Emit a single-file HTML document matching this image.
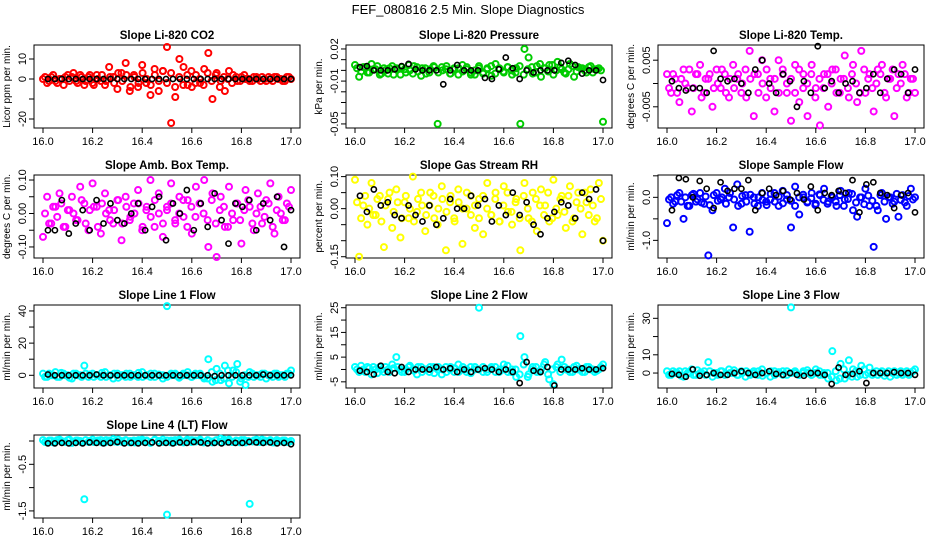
<!DOCTYPE html>
<html><head><meta charset="utf-8"><style>
html,body{margin:0;padding:0;background:#fff;}
svg{display:block;font-family:"Liberation Sans",sans-serif;}
</style></head><body>
<svg id="chart" width="936" height="540" viewBox="0 0 936 540">
<text x="468" y="14" text-anchor="middle" font-size="13">FEF_080816  2.5 Min. Slope Diagnostics</text>
</svg>
<script>
// ---- data ----
const xTicks = [16.0, 16.2, 16.4, 16.6, 16.8, 17.0];
const xTickLabels = ["16.0", "16.2", "16.4", "16.6", "16.8", "17.0"];
const xStart = 16.0, xEnd = 17.0;

const co2Vals = [0,-2,1,-1,0,-3,2,1,-1,2,-3,1,-2,2,-1,-3,6,1,-5,3,8,-6,2,-4,7,-2,-8,5,-6,4,16,-22,-9,10,6,-3,-4,2,-2,5,13,-10,3,-1,-6,4,2,-1,1,0,-1,1,0,1,-1,0,1,0,-1,1,0];
const co2Band = [1,-1,2,-2,0,1,-1,3,-2,1,-1,2,-3,0,2,-1,1,-2,3,-1,2,-4,1,-2,3,0,-3,2,-1,4,-2,3,-4,1,-3,2,4,-2,0,-3,3,-1,2,-4,1,0,-2,1,-1,2,0,-1,1,-1,0,1,-1,1,0,-1,1];
const co2Black = [0,0,0,0,0,0,0,0,0,0,0,0,0,0,0,0,0,0,0,0,0,0,0,0,0,0,0,0,0,0,0,0,0,0,0,0];
const presVals = [0.005,-0.006,0.003,-0.002,0.006,0.001,-0.004,0.002,-0.003,0.004,0.002,-0.004,0.001,0.005,-0.003,0.003,-0.005,0.002,-0.002,0.004,-0.05,0.003,0.001,-0.003,0.002,-0.004,0.005,0.001,-0.002,-0.004,0.004,-0.003,0.002,-0.005,0.006,0.001,-0.002,0.003,-0.004,0.002,-0.05,0.02,0.012,-0.003,0.004,-0.006,0.002,0.005,-0.004,0.008,0.001,-0.003,0.006,-0.006,0.003,0.002,-0.002,0.004,0.001,0.002,-0.048];
const presBand = [0.002,-0.001,0.003,-0.002,0.001,0.004,-0.003,0.0,0.002,-0.004,0.001,0.003,-0.002,0.0,0.004,-0.001,0.002,-0.003,0.001,0.003,-0.002,0.0,0.004,-0.003,0.001,0.002,-0.001,0.003,-0.004,0.0,0.002,-0.002,0.001,0.004,-0.003,0.002,-0.001,0.003,0.0,-0.002,0.004,-0.004,0.001,0.003,-0.002,0.006,0.002,-0.001,0.005,0.0,0.003,-0.002,0.001,0.004,-0.001,0.002,0.0,0.003,-0.002,0.001,0.0];
const presBlack = [0.003,0.004,0,0,0,0.001,0.004,0.006,0.001,0,0,0,-0.013,0,0.005,0,0,0,-0.007,-0.008,0.001,0.012,0.002,-0.008,0,-0.002,0,0,0,0.007,0.009,0.005,-0.003,0,0,-0.009];
const tempVals = [0.002,-0.002,0.001,-0.004,0.003,-0.001,-0.006,0.002,0.004,-0.002,0.001,-0.005,0.003,-0.001,0.002,-0.003,0.004,0.001,-0.002,0.003,0.007,-0.007,0.002,0.005,-0.003,0.001,-0.006,0.005,0.003,-0.002,-0.008,0.004,-0.004,0.002,-0.007,0.004,-0.001,-0.009,0.002,-0.005,0.003,-0.002,0.001,0.006,-0.003,0.004,-0.004,0.007,-0.002,0.002,-0.006,0.003,0.004,-0.003,0.001,-0.007,0.002,0.004,-0.003,0.001,-0.002];
const tempBand = [-0.001,0.002,-0.002,0.001,0.0,0.003,-0.001,0.002,-0.003,0.001,0.002,-0.001,0.0,0.003,-0.002,0.001,-0.001,0.002,0.0,-0.003,0.001,0.002,-0.002,0.0,0.003,-0.001,0.001,-0.002,0.002,0.0,0.001,-0.002,0.003,-0.001,0.0,0.002,-0.003,0.001,-0.001,0.002,0.0,0.003,-0.002,0.001,-0.001,0.002,0.0,-0.002,0.003,0.001,-0.001,0.0,0.002,-0.002,0.001,0.003,-0.001,0.0,0.002,-0.002,0.001];
const tempBlack = [0.0005,-0.001,-0.0015,-0.001,-0.001,-0.002,0.007,0.001,0.0005,0.001,0,-0.002,0.003,0.005,0,-0.002,0.002,0.0005,-0.005,0.0005,-0.002,0.008,-0.001,0.0005,-0.002,0,0.0005,-0.002,-0.001,0.002,-0.002,0.001,0.003,0.002,-0.002,0.003];
const ambVals = [-0.07,0.05,-0.03,0.02,0.06,-0.04,0.01,0.05,-0.02,0.08,0.03,-0.05,0.09,0.02,-0.06,0.06,0.01,-0.03,0.04,-0.08,0.05,-0.02,0.03,0.07,-0.05,0.01,0.10,-0.04,0.06,-0.07,0.02,0.09,-0.03,0.05,-0.01,0.04,-0.06,0.08,0.03,0.10,-0.1,0.06,-0.13,0.05,-0.04,0.08,-0.02,0.03,-0.09,0.07,0.02,-0.05,0.06,-0.03,0.04,0.09,-0.06,0.05,-0.02,0.03,0.07];
const ambBand = [0.0,-0.03,0.02,-0.01,0.03,-0.04,0.01,0.0,-0.02,0.04,-0.03,0.01,0.02,-0.04,0.03,0.0,-0.02,0.01,0.04,-0.03,0.02,-0.01,0.0,0.03,-0.04,0.02,-0.01,0.04,0.0,-0.03,0.01,0.03,-0.02,0.0,0.04,-0.04,0.02,-0.01,0.03,0.0,-0.02,0.04,-0.03,0.01,0.02,-0.04,0.0,0.03,-0.02,0.01,0.04,-0.03,0.0,0.02,-0.01,0.03,-0.04,0.01,0.0,-0.02,0.02];
const ambBlack = [-0.05,-0.05,0.04,-0.06,-0.03,0.01,-0.05,0.04,-0.03,0.03,-0.02,-0.03,0.00,0.03,-0.05,0.02,0.05,-0.08,0.03,0.00,0.07,-0.05,0.03,-0.04,0.06,-0.02,-0.09,0.03,0.02,0.04,-0.05,0.03,-0.02,0.05,-0.1,0.01];
const rhVals = [0.09,-0.15,0.01,-0.05,0.08,-0.02,0.04,-0.12,0.03,-0.06,0.06,-0.09,0.02,-0.03,0.10,-0.01,0.05,-0.07,0.01,0.04,-0.05,0.07,-0.13,0.02,-0.03,0.06,-0.11,0.00,0.04,-0.06,0.03,-0.08,0.08,-0.02,0.05,-0.04,0.07,-0.01,-0.05,0.03,-0.13,0.08,-0.03,0.05,-0.07,0.06,0.01,-0.04,0.09,-0.02,0.04,-0.06,0.07,-0.03,0.05,-0.08,0.02,0.06,-0.04,0.08,-0.10];
const rhBand = [0.02,-0.03,0.04,0.0,-0.02,0.03,-0.04,0.01,0.05,-0.01,0.02,-0.03,0.04,0.0,-0.04,0.03,0.01,-0.02,0.05,-0.03,0.0,0.03,-0.01,0.04,-0.04,0.02,0.0,0.05,-0.02,0.01,-0.03,0.04,0.0,-0.02,0.03,-0.04,0.01,0.05,-0.01,0.02,-0.03,0.04,0.0,-0.04,0.03,0.01,-0.02,0.05,-0.03,0.0,0.03,-0.01,0.04,-0.04,0.02,0.0,0.05,-0.02,0.01,-0.03,0.03];
const rhBlack = [0.04,-0.01,0.06,0.01,0.02,-0.02,-0.03,0.01,-0.02,-0.04,0.01,-0.05,-0.03,0.03,0.00,0.00,0.04,0.01,0.03,-0.04,0.01,-0.02,0.05,-0.02,0.02,-0.05,-0.08,-0.03,-0.01,0.02,0.01,-0.03,0.05,0.03,0.06,-0.10];
const sampleVals = [-0.6,0.0,-0.1,0.1,-0.5,-0.2,0.05,-0.1,0.1,-0.15,-1.35,-0.3,0.1,-0.05,0.2,0.0,-0.7,0.3,-0.15,0.05,-0.8,0.0,-0.2,0.1,-0.1,-0.05,0.1,-0.2,0.15,-0.05,-0.7,0.25,-0.4,0.0,-0.1,0.1,-0.15,0.05,0.2,-0.1,0.0,-0.2,0.15,-0.05,0.1,-0.3,-0.45,0.0,0.2,-0.2,-1.15,-0.3,0.1,-0.5,0.0,-0.1,-0.45,0.05,-0.2,0.2,0.0];
const sampleBand = [-0.05,-0.15,0.05,-0.1,0.0,-0.2,0.08,-0.05,-0.12,0.02,-0.18,0.05,-0.08,0.0,-0.15,0.1,-0.05,-0.2,0.03,-0.1,0.06,-0.15,0.0,-0.06,-0.18,0.08,-0.1,0.02,-0.14,0.05,-0.08,-0.2,0.0,0.06,-0.12,-0.02,-0.18,0.07,-0.06,-0.15,0.02,-0.1,0.05,-0.2,-0.04,0.08,-0.12,0.0,-0.16,0.04,-0.08,-0.2,0.05,-0.1,0.0,-0.15,0.08,-0.06,-0.12,0.03,-0.05];
const sampleBlack = [-0.3,0.45,0.42,0.0,0.38,0.2,-0.25,0.35,0.15,0.2,0.2,0.4,-0.3,0.1,0.2,0.05,0.15,-0.05,0.1,-0.05,0.25,-0.3,0.1,0.05,0.15,0.1,0.4,-0.35,0.3,0.35,0.1,0.05,-0.25,0.05,0.1,-0.35];
const line1Vals = [1,-1,0,2,-1,1,0,-2,1,0,6,-1,1,0,-1,2,0,-2,1,0,-1,1,0,-1,2,0,-1,1,0,-2,43,0,1,-1,0,2,-1,0,1,-2,10,-4,4,-3,6,-5,3,7,-2,-6,2,-1,0,1,-2,0,1,-1,0,1,3];
const line1Band = [-1,1,0,-1,1.5,0,-1.5,1,0,-1,1,0.5,-1,0,1.5,-1,0,1,-1.5,0,1,-1,0,1.5,-1,0,1,-1,0.5,0,-1,1,0,-1.5,1,0,-1,1,0,-1,-2,2,-3,1,-2,3,-1,2,-4,0,-1,1,0,-1,1,0,-1,1,0,-1,1];
const line1Black = [0.5,0,0,0,0,0,0,0.5,0,0,0,0,0,0,0,0,0,0,0,0,0,0,0,0,-0.5,0,0,0,0,0,0,0.5,0,0,0,0];
const line2Vals = [1,-1,0,1,-2,0,1,-1,0,2,5,0,-1,1,0,-2,1,0,-1,1,0,-2,1,0,-1,2,0,-1,1,0,25,-1,0,1,-1,0,2,-1,0,-3,13.5,5,-2,1,-1,0,3,-4,-6,2,4,0,-1,1,0,-1,1,0,-1,0,2];
const line2Band = [0,1.5,-1,0.5,1,-1.5,0,1,-1,0.5,1,-1,0,1.5,-0.5,1,-1,0,1,-1.5,1,0,-1,1,0.5,-1,1,0,-1.5,1,0,1,-1,0.5,1,-1,0,1.5,-1,0,-2,2,-3,0,1,-1,2,-2,0,1,-1,1,0,-1,1.5,0,-1,1,0,-0.5,1];
const line2Black = [-0.5,-1,-2,1.5,-1,-1.5,1,-1,0,0,0,1,0,0.5,-1,0,-1,0,0.5,0,-1,0,-1,-5.5,3,-0.5,-1,1,-6.5,0,0,0,0.5,0,0,0.5];
const line3Vals = [1,-1,0,1,-2,0,2,-1,0,1,6,-2,0,1,-1,2,0,-1,1,-2,0,1,-1,2,0,-2,1,0,-1,1,36,0,-1,1,0,-1,2,-1,0,-3,12,-4,5,-3,7,2,-2,4,-1,3,0,-1,1,0,-2,1,0,-1,1,0,2];
const line3Band = [-1,1,0,-1.5,1,0,-1,1.5,0,-1,1,0,-1,1,-0.5,0,1.5,-1,0,1,-1,0,1,-1.5,0,1,-1,0.5,1,-1,0,1,-1,0,1.5,-1,0,1,-1,0,-2,1,-3,2,-1,-2,1,-1,2,0,-1,1,0,-1.5,1,0,-1,1,0,-1,1];
const line3Black = [-0.5,-1,-2,2,-1.5,-1,0,-1,-1,0,1,0,-1,0,1,-0.5,-1,0,-1,-1.5,0,0,-1,-6,3,-1,-0.5,1,-5.5,0,0,0,0.5,0,0,-1];
const line4Vals = [0.02,-0.03,0.01,-0.02,0.03,-0.01,0.02,-0.04,0.01,0.0,-1.25,-0.02,0.03,-0.01,0.02,-0.03,0.01,0.04,-0.02,0.0,0.02,-0.03,0.01,-0.02,0.03,0.0,-0.04,0.02,-0.01,0.03,-1.58,0.01,-0.02,0.03,-0.03,0.0,0.02,-0.01,0.03,-0.02,0.01,-0.03,0.02,0.05,-0.01,0.03,-0.02,0.0,0.02,-0.03,-1.35,0.01,-0.02,0.03,-0.01,0.02,-0.03,0.0,0.01,-0.02,0.0];
const line4Band = [-0.02,0.01,-0.03,0.02,0.0,-0.02,0.03,-0.01,0.01,-0.03,0.02,0.0,-0.02,0.01,-0.03,0.02,0.0,-0.01,0.03,-0.02,0.01,0.0,-0.03,0.02,-0.01,0.01,-0.02,0.03,0.0,-0.02,0.01,-0.03,0.02,0.0,-0.01,0.03,-0.02,0.01,0.0,-0.03,0.02,-0.01,0.01,-0.02,0.03,0.0,-0.02,0.01,-0.03,0.02,0.0,-0.01,0.03,-0.02,0.01,0.0,-0.03,0.02,-0.01,0.01,-0.02];
const line4Black = [-0.05,-0.05,-0.04,-0.05,-0.04,-0.05,-0.03,-0.04,-0.05,-0.04,-0.02,-0.05,-0.04,-0.05,-0.04,-0.03,-0.05,-0.04,-0.05,-0.03,-0.04,-0.02,-0.03,-0.05,-0.04,-0.05,-0.03,-0.04,-0.04,-0.02,-0.03,-0.04,-0.03,-0.05,-0.04,-0.07];

const panelTitles = ["Slope Li-820 CO2","Slope Li-820 Pressure","Slope Li-820 Temp.","Slope Amb. Box Temp.","Slope Gas Stream RH","Slope Sample Flow","Slope Line 1 Flow","Slope Line 2 Flow","Slope Line 3 Flow","Slope Line 4 (LT) Flow"];
const yTitles = ["Licor ppm per min.","kPa per min.","degrees C per min.","degrees C per min.","percent per min.","ml/min per min.","ml/min per min.","ml/min per min.","ml/min per min.","ml/min per min."];
const yTickVals = [[-20,-10,0,10],[0.02,0.01,0,-0.01,-0.02,-0.03,-0.04,-0.05],[-0.005,0,0.005],[-0.1,-0.05,0,0.05,0.1],[-0.15,-0.1,-0.05,0,0.05,0.1],[-1,-0.5,0,0.5],[0,10,20,30,40],[-5,0,5,10,15,20,25],[0,10,20,30],[-1.5,-1,-0.5,0]];
const yTickLabels = [["-20","","0","10"],["0.02","","","-0.01","","","","-0.05"],["-0.005","","0.005"],["-0.10","","0.00","","0.10"],["-0.15","","","0.00","","0.10"],["-1.0","","0.0",""],["0","","20","","40"],["-5","","5","","15","","25"],["0","10","","30"],["-1.5","","-0.5",""]];
const seriesColored = [co2Vals,presVals,tempVals,ambVals,rhVals,sampleVals,line1Vals,line2Vals,line3Vals,line4Vals];
const seriesBand = [co2Band,presBand,tempBand,ambBand,rhBand,sampleBand,line1Band,line2Band,line3Band,line4Band];
const seriesBlack = [co2Black,presBlack,tempBlack,ambBlack,rhBlack,sampleBlack,line1Black,line2Black,line3Black,line4Black];
const seriesColors = ["#ff0000","#00cc00","#ff00ff","#ff00ff","#ffff00","#0000ff","#00ffff","#00ffff","#00ffff","#00ffff"];
const yDomains = [[-24.5,17],[-0.0538,0.0237],[-0.00955,0.00826],[-0.133,0.115],[-0.154,0.105],[-1.41,0.519],[-7.9,43.7],[-7.5,26.1],[-8.2,37.3],[-1.652,0.129]];

// ---- layout ----
const colLeft = [34, 346, 658], rowTop = [45, 175, 305, 435];
const PW = 266, PH = 83, PAD = 9;
const NS = "http://www.w3.org/2000/svg";
const svg = document.getElementById("chart");
function mk(tag, attrs, parent) {
  const e = document.createElementNS(NS, tag);
  for (const k in attrs) e.setAttribute(k, attrs[k]);
  (parent || svg).appendChild(e);
  return e;
}
const slug = s => s.toLowerCase().replace(/[^a-z0-9]+/g, "-").replace(/^-|-$/g, "");

panelTitles.forEach((title, p) => {
  const L = colLeft[p % 3], T = rowTop[Math.floor(p / 3)];
  const g = mk("g", {});
  
  
  const xs = v => L + PAD + (v - xStart) / (xEnd - xStart) * (PW - 2 * PAD);
  const [d0, d1] = yDomains[p];
  const ys = v => T + PH - (v - d0) / (d1 - d0) * PH;

  const t = mk("text", {x: L + PW / 2, y: T - 6, "text-anchor": "middle", "font-size": "11.5", "font-weight": "bold"}, g);
  t.textContent = title;
  
  

  const yt = mk("text", {transform: `translate(${L - 24},${T + PH / 2}) rotate(-90)`, "text-anchor": "middle", "font-size": "10"}, g);
  yt.textContent = yTitles[p];
  
  

  const box = mk("rect", {x: L, y: T, width: PW, height: PH, fill: "none", stroke: "#000", "stroke-width": 1}, g);
  
  

  xTicks.forEach((v, i) => {
    mk("line", {x1: xs(v), x2: xs(v), y1: T + PH, y2: T + PH + 5, stroke: "#000"}, g);
    const tl = mk("text", {x: xs(v), y: T + PH + 17, "text-anchor": "middle", "font-size": "11"}, g);
    tl.textContent = xTickLabels[i];
    
    
  });
  yTickVals[p].forEach((v, i) => {
    mk("line", {x1: L - 5, x2: L, y1: ys(v), y2: ys(v), stroke: "#000"}, g);
    if (yTickLabels[p][i]) {
      const tl = mk("text", {transform: `translate(${L - 8},${ys(v)}) rotate(-90)`, "text-anchor": "middle", "font-size": "11"}, g);
      tl.textContent = yTickLabels[p][i];
      
      
    }
  });

  const bd = seriesBand[p];
  bd.forEach((v, i) => {
    const c = mk("circle", {cx: xs(xStart + (i + 0.5) * (xEnd - xStart) / bd.length), cy: ys(v), r: 3, fill: "none", stroke: seriesColors[p], "stroke-width": 2}, g);
    
    
  });
  const cv = seriesColored[p];
  cv.forEach((v, i) => {
    const c = mk("circle", {cx: xs(xStart + i * (xEnd - xStart) / (cv.length - 1)), cy: ys(v), r: 3, fill: "none", stroke: seriesColors[p], "stroke-width": 2}, g);
    
    
  });
  const bv = seriesBlack[p];
  bv.forEach((v, i) => {
    const c = mk("circle", {cx: xs(16.02 + i * 0.98 / (bv.length - 1)), cy: ys(v), r: 2.6, fill: "none", stroke: "#000", "stroke-width": 1.6}, g);
    
    
  });
});
</script>
</body></html>
